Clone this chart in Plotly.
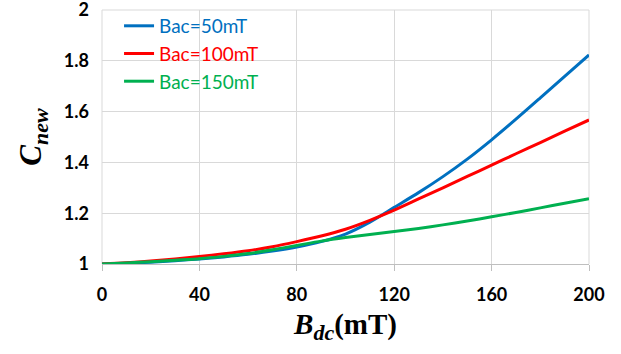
import plotly.graph_objects as go

bdc = [0, 10, 20, 30, 40, 50, 60, 70, 80, 90, 100, 110, 120, 130, 140, 150, 160, 170, 180, 190, 200]
c_bac50 = [1.000, 1.003, 1.007, 1.013, 1.020, 1.028, 1.038, 1.051, 1.067, 1.088, 1.118, 1.165, 1.223, 1.281, 1.344, 1.413, 1.489, 1.570, 1.654, 1.739, 1.823]
c_bac100 = [1.000, 1.005, 1.012, 1.020, 1.030, 1.040, 1.052, 1.068, 1.088, 1.110, 1.137, 1.172, 1.212, 1.256, 1.300, 1.345, 1.389, 1.434, 1.478, 1.523, 1.567]
c_bac150 = [1.000, 1.004, 1.009, 1.015, 1.021, 1.030, 1.041, 1.056, 1.073, 1.090, 1.104, 1.116, 1.128, 1.140, 1.154, 1.169, 1.186, 1.203, 1.221, 1.239, 1.257]
y_ticks = [1.0, 1.2, 1.4, 1.6, 1.8, 2.0]
y_tick_text = ["1", "1.2", "1.4", "1.6", "1.8", "2"]
x_ticks = [0, 40, 80, 120, 160, 200]

series = [
    ("Bac=50mT", c_bac50, "#0070C0"),
    ("Bac=100mT", c_bac100, "#FF0000"),
    ("Bac=150mT", c_bac150, "#00B050"),
]

fig = go.Figure()
for name, ys, col in series:
    fig.add_trace(go.Scatter(
        x=bdc, y=ys, mode="lines", line=dict(color=col, width=3, shape="spline", smoothing=0.8),
        name=f"<span style='color:{col}'>{name}</span>",
    ))

tickfont = dict(family="Lato, Carlito, sans-serif", size=18, color="black", weight="bold")
serif = "Liberation Serif, Times New Roman, serif"

fig.update_layout(
    width=621, height=354,
    margin=dict(l=102, r=32, t=10, b=90, autoexpand=False),
    paper_bgcolor="white", plot_bgcolor="white",
    showlegend=True,
    legend=dict(
        x=0.035, y=1.012, xanchor="left", yanchor="top",
        bgcolor="rgba(0,0,0,0)",
        font=dict(family="Lato, Carlito, sans-serif", size=19),
        tracegroupgap=0, itemwidth=30,
    ),
    xaxis=dict(
        range=[0, 200], tickvals=x_ticks,
        showgrid=True, gridcolor="#D9D9D9", gridwidth=1,
        showline=True, linecolor="#BFBFBF", linewidth=1,
        ticks="outside", ticklen=6, tickcolor="#BFBFBF",
        tickfont=tickfont, ticklabelstandoff=8,
        zeroline=False,
        title=dict(
            text="<b><i>B</i><sub><i><span style='font-size:22px'>dc</span></i></sub>(mT)</b>",
            font=dict(family=serif, size=29, color="black"),
            standoff=10,
        ),
    ),
    yaxis=dict(
        range=[1, 2], tickvals=y_ticks, ticktext=y_tick_text,
        showgrid=True, gridcolor="#D9D9D9", gridwidth=1,
        showline=False, zeroline=False,
        ticks="", tickfont=tickfont, ticklabelstandoff=12,
        ticklabeloverflow="allow", automargin=False,
        title=dict(
            text="<b><i>C<sub><span style='font-size:22px'>new</span></sub></i></b>",
            font=dict(family=serif, size=31, color="black"),
            standoff=12,
        ),
    ),
)

# edge gridlines (plotly drops gridlines that sit on the plot edges)
for x0, x1, y0, y1 in [(1, 1, 0, 1), (0, 0, 0, 1), (0, 1, 1, 1)]:
    fig.add_shape(type="line", xref="paper", yref="paper", x0=x0, x1=x1, y0=y0, y1=y1,
                  line=dict(color="#D9D9D9", width=1), layer="below")

fig.write_html("out.html")
